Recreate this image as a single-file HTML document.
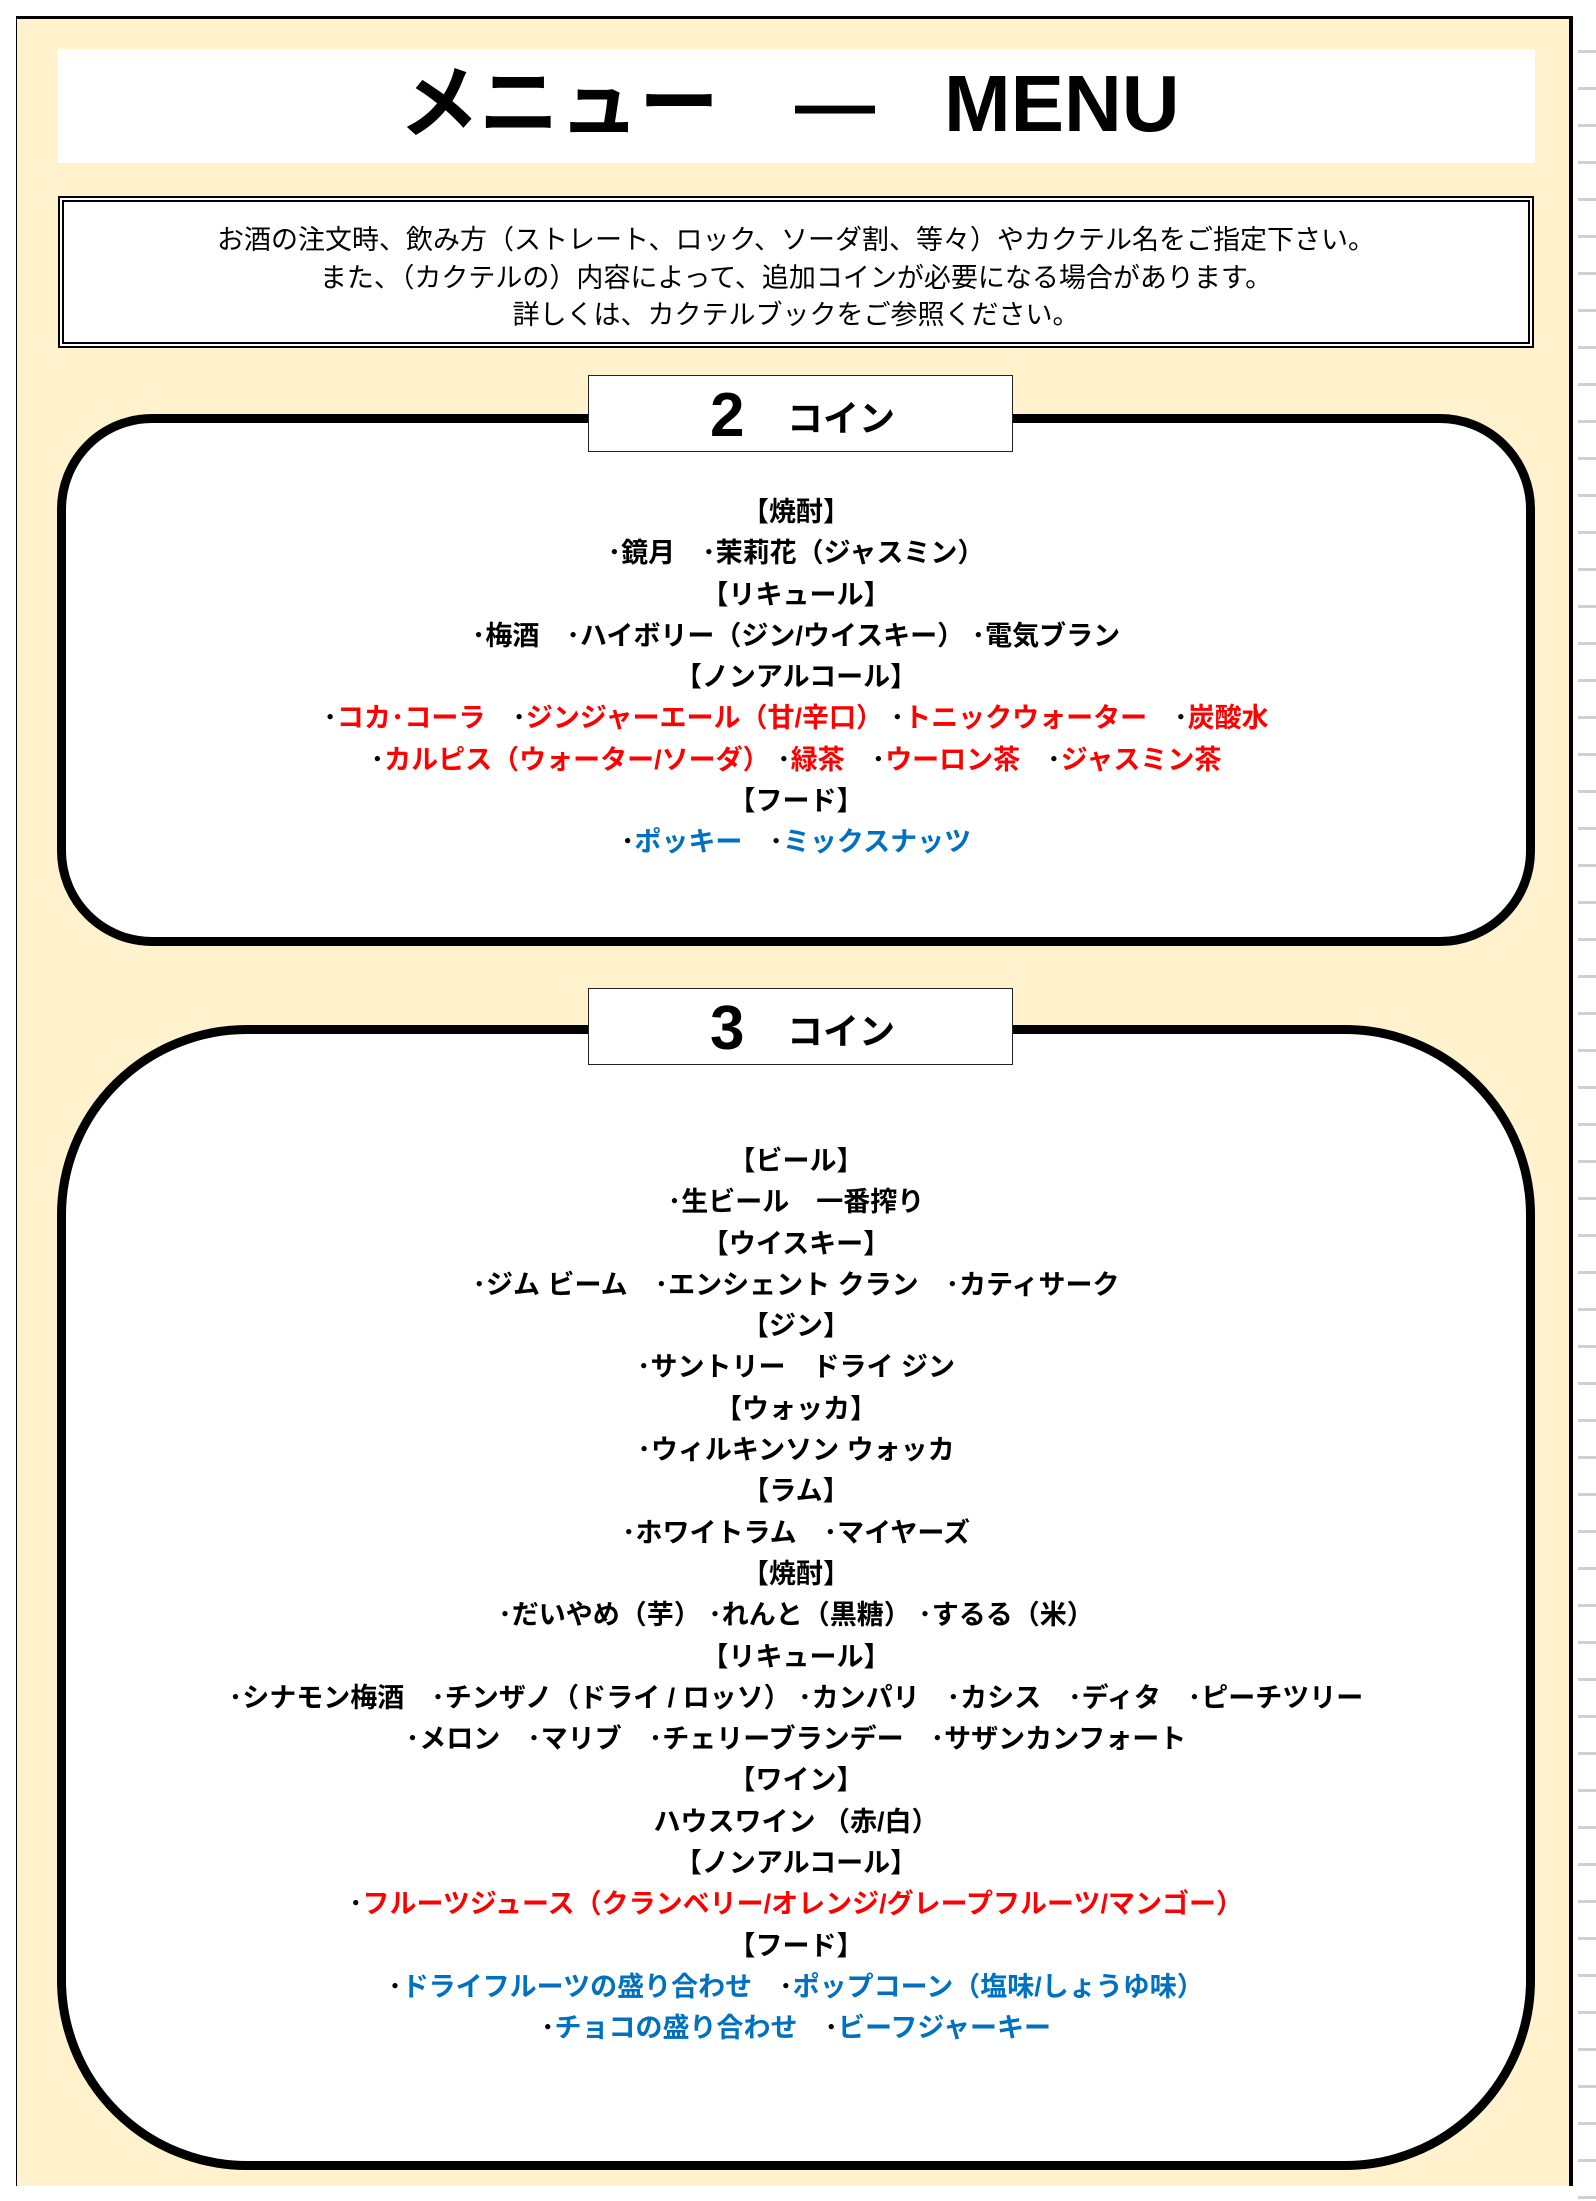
<!DOCTYPE html>
<html><head><meta charset="utf-8">
<style>
html,body{margin:0;padding:0;}
body{width:1596px;height:2201px;position:relative;background:#fff;overflow:hidden;
font-family:"Liberation Sans","Noto Sans CJK JP",sans-serif;}
.grid{position:absolute;left:1578px;top:16px;width:18px;height:2185px;
background:repeating-linear-gradient(to bottom,#fff 0,#fff 34px,#d0d0d0 34px,#d0d0d0 37px);}
.cont{position:absolute;left:16px;top:16px;width:1557px;height:2170px;background:#fff2cc;
border-left:1px solid #000;border-top:3px solid #000;border-right:4px solid #000;box-sizing:border-box;}
.title{position:absolute;left:58px;top:49px;width:1477px;height:114px;background:#fff;}
.t{position:absolute;font-weight:bold;font-size:80px;line-height:80px;top:64px;color:#000;}
.info{position:absolute;left:58px;top:196px;width:1476px;height:152px;background:#fff;border:6px double #000;box-sizing:border-box;
text-align:center;font-size:27px;line-height:37.5px;padding-top:20px;color:#000;}
.box{position:absolute;left:57px;width:1478px;background:#fff;border:9px solid #000;box-sizing:border-box;}
.tab{position:absolute;left:588px;width:425px;height:77px;background:#fff;border:1.5px solid #222;box-sizing:border-box;}
.tab .n{position:absolute;left:121px;top:5px;font-size:62px;font-weight:bold;line-height:70px;}
.tab .c{position:absolute;left:198px;top:18px;font-size:36px;font-weight:bold;line-height:50px;}
.lines{position:absolute;left:57px;width:1478px;text-align:center;font-weight:bold;font-size:27px;line-height:41.3px;color:#000;white-space:pre;}
.r{color:#ff0000}.b{color:#0070c0}
</style></head><body>
<div class="grid"></div>
<div class="cont"></div>
<div class="title"></div>
<div class="t" style="left:399px;">メニュー</div>
<div class="t" style="left:795px;">—</div>
<div class="t" style="left:944px;">MENU</div>
<div class="info">お酒の注文時、飲み方（ストレート、ロック、ソーダ割、等々）やカクテル名をご指定下さい。<br>また、（カクテルの）内容によって、追加コインが必要になる場合があります。<br>詳しくは、カクテルブックをご参照ください。</div>

<div class="box" style="top:414px;height:532px;border-radius:95px;"></div>
<div class="tab" style="top:375px;"><span class="n">2</span><span class="c">コイン</span></div>
<div class="lines" style="top:492px;">【焼酎】
･鏡月　･茉莉花（ジャスミン）
【リキュール】
･梅酒　･ハイボリー（ジン/ウイスキー） ･電気ブラン
【ノンアルコール】
･<span class="r">コカ･コーラ</span>　･<span class="r">ジンジャーエール（甘/辛口）</span> ･<span class="r">トニックウォーター</span>　･<span class="r">炭酸水</span>
･<span class="r">カルピス（ウォーター/ソーダ）</span> ･<span class="r">緑茶</span>　･<span class="r">ウーロン茶</span>　･<span class="r">ジャスミン茶</span>
【フード】
･<span class="b">ポッキー</span>　･<span class="b">ミックスナッツ</span></div>

<div class="box" style="top:1025px;height:1145px;border-radius:190px;"></div>
<div class="tab" style="top:988px;"><span class="n">3</span><span class="c">コイン</span></div>
<div class="lines" style="top:1141px;">【ビール】
･生ビール　一番搾り
【ウイスキー】
･ジム ビーム　･エンシェント クラン　･カティサーク
【ジン】
･サントリー　ドライ ジン
【ウォッカ】
･ウィルキンソン ウォッカ
【ラム】
･ホワイトラム　･マイヤーズ
【焼酎】
･だいやめ（芋） ･れんと（黒糖） ･するる（米）
【リキュール】
･シナモン梅酒　･チンザノ（ドライ / ロッソ） ･カンパリ　･カシス　･ディタ　･ピーチツリー
･メロン　･マリブ　･チェリーブランデー　･サザンカンフォート
【ワイン】
ハウスワイン （赤/白）
【ノンアルコール】
･<span class="r">フルーツジュース（クランベリー/オレンジ/グレープフルーツ/マンゴー）</span>
【フード】
･<span class="b">ドライフルーツの盛り合わせ</span>　･<span class="b">ポップコーン（塩味/しょうゆ味）</span>
･<span class="b">チョコの盛り合わせ</span>　･<span class="b">ビーフジャーキー</span></div>
</body></html>
